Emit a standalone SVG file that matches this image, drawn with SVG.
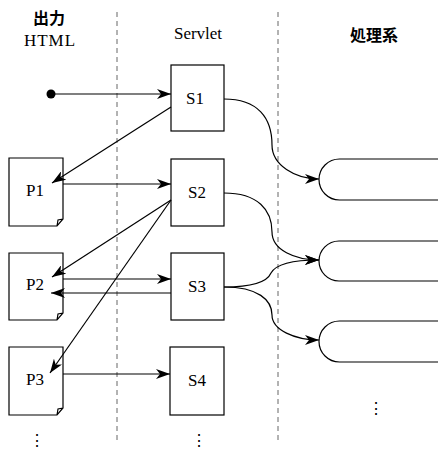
<svg xmlns="http://www.w3.org/2000/svg" width="438" height="451" viewBox="0 0 438 451">
<defs>
<style>
.box{fill:#fff;stroke:#000;stroke-width:1.2}
.lbl{font-family:"Liberation Serif",serif;font-size:17px;text-anchor:middle;fill:#000}
.hdr{font-family:"Liberation Serif","Noto Sans CJK JP",serif;font-size:17px;text-anchor:middle;fill:#000}
.cjk{font-family:"Noto Sans CJK JP",sans-serif;font-size:16px;font-weight:bold;text-anchor:middle;fill:#000}
.sep{stroke:#666;stroke-width:1;stroke-dasharray:5,4;fill:none}
.con{stroke:#000;stroke-width:1.2;fill:none;marker-end:url(#ah)}
.dots{font-family:"Liberation Serif",serif;font-size:16px;text-anchor:middle;fill:#000}
</style>
<marker id="ah" viewBox="0 0 14 10" refX="14" refY="5" markerWidth="14" markerHeight="10" markerUnits="userSpaceOnUse" orient="auto">
<path d="M0,0 L14,5 L0,10 L4,5 Z" fill="#000"/>
</marker>
</defs>
<rect width="438" height="451" fill="#fff"/>
<g id="separators">
<line class="sep" x1="117" y1="12" x2="117" y2="443"/>
<line class="sep" x1="278" y1="12" x2="278" y2="443"/>
</g>
<g id="headers">
<text class="cjk" x="49" y="24">出力</text>
<text class="hdr" x="50" y="46" letter-spacing="1">HTML</text>
<text class="hdr" x="198" y="39">Servlet</text>
<text class="cjk" x="374" y="41" font-size="17">処理系</text>
</g>
<g id="start"><circle cx="51" cy="94" r="4.5" fill="#000"/></g>
<g id="S1"><rect class="box" x="171" y="65" width="53" height="66"/><text class="lbl" x="195" y="104">S1</text></g>
<g id="S2"><rect class="box" x="171" y="159" width="53" height="67"/><text class="lbl" x="197" y="198">S2</text></g>
<g id="S3"><rect class="box" x="171" y="253" width="53" height="67"/><text class="lbl" x="197" y="292">S3</text></g>
<g id="S4"><rect class="box" x="170" y="347" width="54" height="68"/><text class="lbl" x="197" y="386">S4</text></g>
<g id="P1"><path class="box" d="M9,158 H63 V219 L57,226 H9 Z M57,226 L58,220 L63,219"/><text class="lbl" x="35" y="196">P1</text></g>
<g id="P2"><path class="box" d="M9,253 H63 V313 L57,320 H9 Z M57,320 L58,314 L63,313"/><text class="lbl" x="35" y="290">P2</text></g>
<g id="P3"><path class="box" d="M9,347 H63 V408 L57,415 H9 Z M57,415 L58,409 L63,408"/><text class="lbl" x="35" y="385">P3</text></g>
<g id="R1"><rect class="box" x="319" y="159" width="140" height="41" rx="20.5"/></g>
<g id="R2"><rect class="box" x="319" y="241" width="140" height="40" rx="20"/></g>
<g id="R3"><rect class="box" x="319" y="321" width="140" height="41" rx="20.5"/></g>
<g id="connectors">
<line class="con" x1="55" y1="94" x2="171" y2="94"/>
<line class="con" x1="171" y1="107" x2="52" y2="183"/>
<line class="con" x1="63" y1="184" x2="171" y2="184"/>
<line class="con" x1="171" y1="200" x2="52" y2="277"/>
<line class="con" x1="171" y1="200" x2="50" y2="373"/>
<line class="con" x1="63" y1="279" x2="171" y2="279"/>
<line class="con" x1="171" y1="293" x2="51" y2="293"/>
<line class="con" x1="63" y1="374" x2="170" y2="374"/>
<path class="con" d="M224,99 C258,99 272,118 272,145 C272,165 295,179 319,179"/>
<path class="con" d="M224,193 C258,193 272,210 272,232 C272,250 295,260 319,260"/>
<path class="con" d="M224,287 C258,287 268,280 271,273 C276,264 295,260 319,260"/>
<path class="con" d="M224,287 C258,287 272,300 272,315 C272,330 295,340 319,340"/>
</g>
<g id="ellipses">
<text class="dots" x="37" y="446">⋮</text>
<text class="dots" x="199" y="446">⋮</text>
<text class="dots" x="376" y="414">⋮</text>
</g>
</svg>
